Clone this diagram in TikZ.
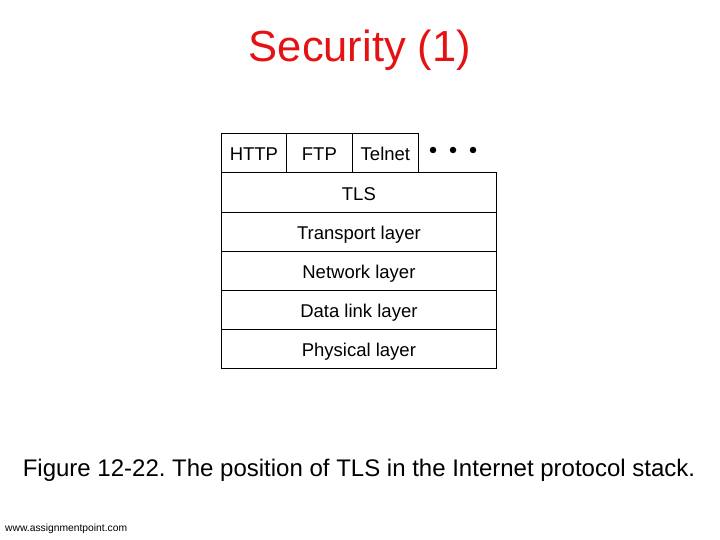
\documentclass[tikz,border=0pt]{standalone}
\usepackage{fontspec}
\setmainfont{Liberation Sans}
\definecolor{titlered}{RGB}{228,18,18}
\frenchspacing
\begin{document}
\begin{tikzpicture}[x=1pt,y=-1pt,
  layer/.style={draw=black,line width=0.8pt,minimum height=39pt,inner sep=0pt,font=\fontsize{18.5}{20}\selectfont,anchor=north west,text depth=0pt,text height=16pt},
  dotmark/.style={circle,fill=black,inner sep=0pt,minimum size=6.5pt}]
\useasboundingbox (0,0) rectangle (720,540);
\node[text=titlered,font=\fontsize{43.5}{48}\selectfont] (title) at (360,50) {Security (1)};
\node[layer,minimum width=65pt] (http) at (221,133) {HTTP};
\node[layer,minimum width=66pt] (ftp) at (286,133) {FTP};
\node[layer,minimum width=66pt] (telnet) at (352,133) {Telnet};
\node[dotmark] (d1) at (433,150) {};
\node[dotmark] (d2) at (453,150) {};
\node[dotmark] (d3) at (473,150) {};
\node[layer,minimum width=275pt,minimum height=40pt] (tls) at (221,172) {TLS};
\node[layer,minimum width=275pt] (transport) at (221,212) {Transport layer};
\node[layer,minimum width=275pt] (network) at (221,251) {Network layer};
\node[layer,minimum width=275pt] (datalink) at (221,290) {Data link layer};
\node[layer,minimum width=275pt] (physical) at (221,329) {Physical layer};
\node[font=\fontsize{24}{26}\selectfont] (caption) at (359,470) {Figure 12-22. The position of TLS in the Internet protocol stack.};
\node[font=\fontsize{10.3}{12}\selectfont,anchor=west,inner sep=0pt] (footer) at (5,529) {www.assignmentpoint.com};
\end{tikzpicture}
\end{document}
